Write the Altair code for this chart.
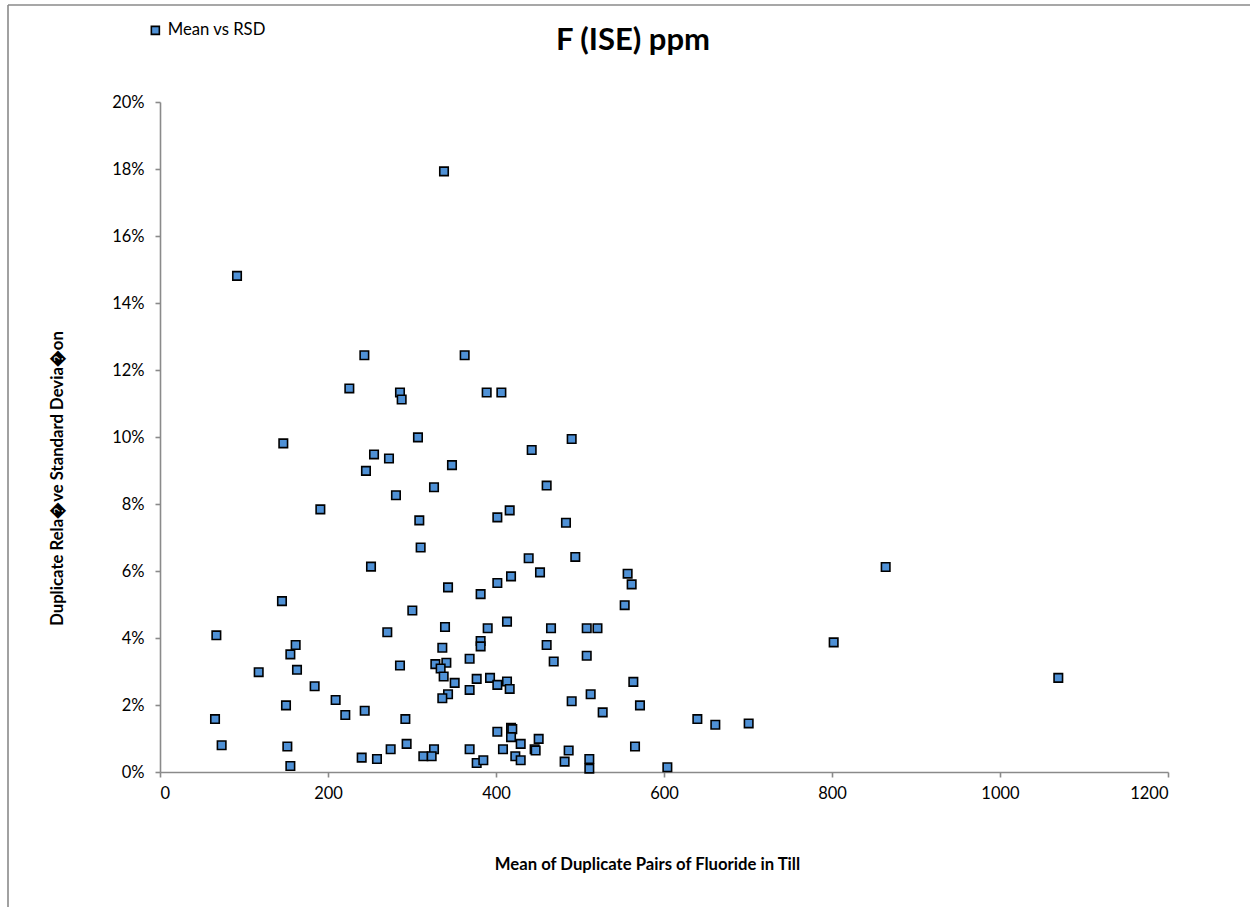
import altair as alt
import pandas as pd

# Mean of duplicate pairs (ppm)
mean_ppm = [
    338.1, 91.7, 243.3, 362.7, 225.4, 285.7, 287.7, 388.9, 406.4, 146.8,
    307.1, 254.8, 272.6, 347.6, 245.2, 280.9, 326.2, 190.9, 308.7, 401.6,
    310.3, 251.2, 342.9, 381.7, 401.6, 145.2, 300.4, 339.3, 390.1, 270.6,
    67.1, 381.7, 381.7, 161.5, 155.2, 336.1, 368.6, 327.8, 340.9, 334.1,
    337.7, 285.7, 163.1, 117.5, 350.8, 392.9, 377.0, 401.6, 184.1, 368.6,
    342.9, 336.1, 209.1, 150.0, 220.6, 243.7, 292.1, 65.5, 401.6, 73.4,
    151.6, 293.6, 274.6, 326.2, 368.6, 408.3, 240.1, 258.3, 313.5, 323.4,
    377.0, 384.9, 155.2, 490.1, 442.5, 460.3, 416.3, 483.3, 438.9, 494.4,
    556.7, 561.5, 553.2, 452.4, 417.9, 413.1, 465.5, 508.0, 520.8, 460.3,
    468.7, 508.0, 413.1, 416.3, 563.5, 512.7, 490.1, 571.4, 527.0, 417.9,
    419.4, 417.9, 450.8, 429.4, 565.5, 446.0, 447.2, 486.5, 423.0, 429.4,
    481.7, 511.1, 511.1, 863.9, 802.0, 1069.4, 639.7, 661.1, 700.8, 604.0,
]

# Relative standard deviation (%)
rsd_pct = [
    17.93, 14.81, 12.44, 12.44, 11.45, 11.33, 11.12, 11.33, 11.33, 9.81,
    9.99, 9.48, 9.36, 9.16, 8.99, 8.26, 8.50, 7.84, 7.51, 7.60,
    6.70, 6.13, 5.51, 5.31, 5.64, 5.10, 4.82, 4.33, 4.29, 4.17,
    4.08, 3.91, 3.75, 3.79, 3.51, 3.71, 3.38, 3.22, 3.26, 3.09,
    2.85, 3.18, 3.05, 2.98, 2.66, 2.81, 2.78, 2.60, 2.56, 2.45,
    2.32, 2.20, 2.15, 1.99, 1.70, 1.83, 1.58, 1.58, 1.20, 0.80,
    0.76, 0.84, 0.68, 0.68, 0.68, 0.68, 0.43, 0.39, 0.47, 0.47,
    0.27, 0.35, 0.18, 9.94, 9.61, 8.55, 7.81, 7.44, 6.38, 6.42,
    5.92, 5.60, 4.98, 5.96, 5.84, 4.49, 4.29, 4.29, 4.29, 3.79,
    3.30, 3.47, 2.70, 2.48, 2.69, 2.32, 2.11, 1.99, 1.78, 1.32,
    1.28, 1.04, 0.99, 0.84, 0.76, 0.68, 0.64, 0.64, 0.47, 0.35,
    0.31, 0.39, 0.10, 6.12, 3.87, 2.81, 1.58, 1.41, 1.45, 0.14,
]

series_name = "Mean vs RSD"
chart_title = "F (ISE) ppm"
x_ticks = [0, 200, 400, 600, 800, 1000, 1200]
y_ticks = [0.0, 0.02, 0.04, 0.06, 0.08, 0.10, 0.12, 0.14, 0.16, 0.18, 0.20]

df = pd.DataFrame({
    "mean": mean_ppm,
    "rsd": [v / 100.0 for v in rsd_pct],
    "series": [series_name] * len(mean_ppm),
})

FONT = "Lato"
AXIS_GRAY = "#8a8a8a"
FILL = "#4f91d6"

W, H = 1008, 670
PAD_L, PAD_T, PAD_R, PAD_B = 160, 102, 82, 135

points = alt.Chart(df).mark_square(
    size=72, filled=True, stroke="black", strokeWidth=1.6, opacity=1
).encode(
    x=alt.X("mean:Q",
            scale=alt.Scale(domain=[0, 1200], nice=False, zero=True),
            axis=alt.Axis(values=x_ticks, format="d", grid=False,
                          title="Mean of Duplicate Pairs of Fluoride in Till",
                          titleX=487, titleY=92, titleBaseline="middle",
                          titleFont=FONT, titleFontWeight="bold", titleFontSize=16.7,
                          titleColor="black",
                          labelFont=FONT, labelFontSize=16.5, labelColor="black",
                          labelPadding=8, tickSize=5, tickColor=AXIS_GRAY,
                          domainColor=AXIS_GRAY, domainWidth=1.6, tickWidth=1.6)),
    y=alt.Y("rsd:Q",
            scale=alt.Scale(domain=[0, 0.2], nice=False),
            axis=alt.Axis(values=y_ticks, format=".0%", grid=False,
                          title="Duplicate Rela\ufffdve Standard Devia\ufffdon",
                          titleX=-103, titleY=376, titleBaseline="middle",
                          titleFont=FONT, titleFontWeight="bold", titleFontSize=16.7,
                          titleColor="black",
                          labelFont=FONT, labelFontSize=16.5, labelColor="black",
                          labelPadding=11, tickSize=5, tickColor=AXIS_GRAY,
                          domainColor=AXIS_GRAY, domainWidth=1.6, tickWidth=1.6)),
    color=alt.Color("series:N",
                    scale=alt.Scale(domain=[series_name], range=[FILL]),
                    legend=alt.Legend(title=None, orient="none",
                                      legendX=-13, legendY=-80, padding=0,
                                      symbolType="square", symbolSize=64,
                                      symbolStrokeColor="black", symbolStrokeWidth=1.6,
                                      symbolFillColor=FILL, symbolOpacity=1,
                                      labelFont=FONT, labelFontSize=16.7,
                                      labelColor="black", labelOffset=4)),
)

one_row = pd.DataFrame({"k": [0]})
left_border = alt.Chart(one_row).mark_rule(color=AXIS_GRAY, strokeWidth=1.6).encode(
    x=alt.value(8 - PAD_L), y=alt.value(5 - PAD_T), y2=alt.value(907 - PAD_T + 5)
)
top_border = alt.Chart(one_row).mark_rule(color=AXIS_GRAY, strokeWidth=1.6).encode(
    x=alt.value(8 - PAD_L), x2=alt.value(1250 - PAD_L + 5), y=alt.value(5 - PAD_T)
)
title_text = alt.Chart(one_row).mark_text(
    font=FONT, fontSize=31, fontWeight="bold", color="black",
    align="center", baseline="alphabetic"
).encode(
    text=alt.value(chart_title), x=alt.value(633 - PAD_L), y=alt.value(50 - PAD_T)
)

chart = alt.layer(left_border, top_border, title_text, points).properties(
    width=W, height=H,
    padding={"left": PAD_L, "top": PAD_T, "right": PAD_R, "bottom": PAD_B},
    autosize=alt.AutoSizeParams(type="none"),
    background="white",
).configure_view(stroke=None)

chart.save("out.html", embed_options={"renderer": "svg", "actions": False})
